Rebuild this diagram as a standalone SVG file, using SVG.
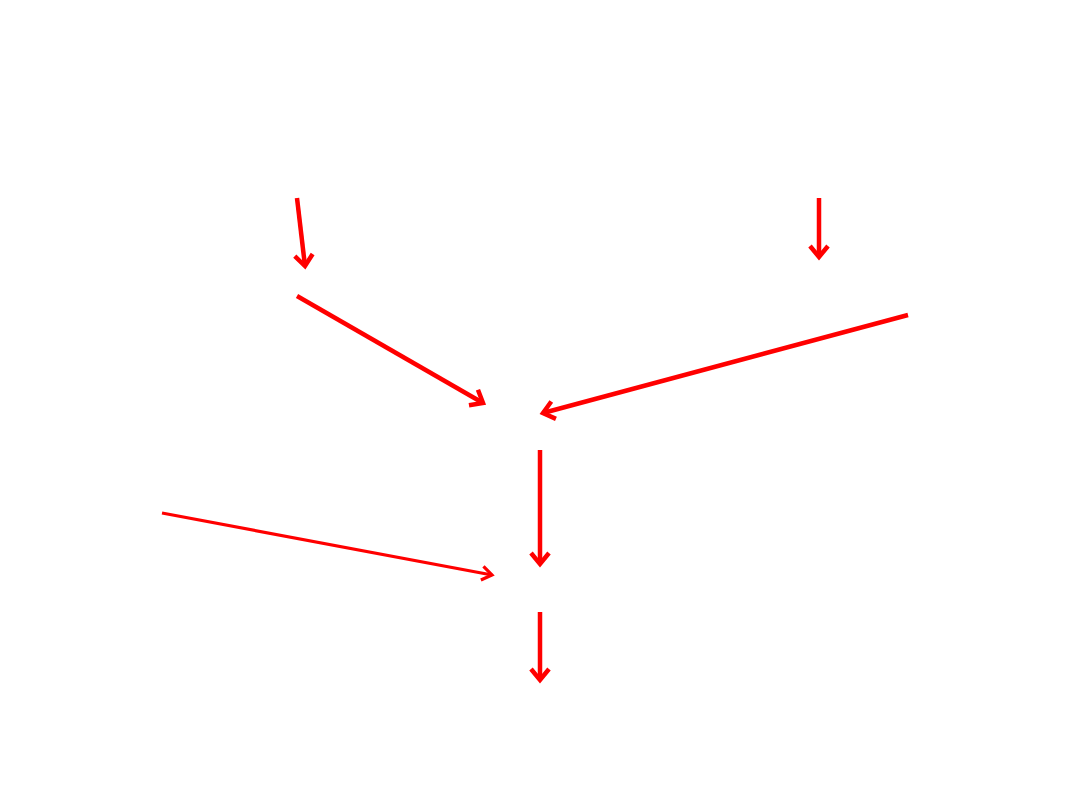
<svg xmlns="http://www.w3.org/2000/svg" width="1080" height="810" viewBox="0 0 1080 810">
<defs>
<style>
.c{stroke:#ff0000;stroke-width:4.5;fill:none;stroke-linecap:butt}
.t{stroke-width:3.2}
</style>
<marker id="ah" markerUnits="userSpaceOnUse" orient="auto" refX="0" refY="0" markerWidth="30" markerHeight="30" viewBox="-15 -15 30 30" overflow="visible">
<path d="M-11,-9 L0,0 L-11,9" fill="none" stroke="#ff0000" stroke-width="4.5" stroke-linejoin="miter"/>
</marker>
<marker id="ahs" markerUnits="userSpaceOnUse" orient="auto" refX="0" refY="0" markerWidth="30" markerHeight="30" viewBox="-15 -15 30 30" overflow="visible">
<path d="M-10,-7 L0,0 L-10,7" fill="none" stroke="#ff0000" stroke-width="3.2" stroke-linejoin="miter"/>
</marker>
</defs>
<rect width="1080" height="810" fill="#ffffff"/>
<g id="connectors">
<line class="c" x1="297" y1="198" x2="305" y2="266" marker-end="url(#ah)"/>
<line class="c" x1="297" y1="296" x2="483" y2="403" marker-end="url(#ah)"/>
<line class="c" x1="908" y1="315" x2="543" y2="413" marker-end="url(#ah)"/>
<line class="c" x1="819" y1="198" x2="819" y2="257" marker-end="url(#ah)"/>
<line class="c" x1="540" y1="450" x2="540" y2="564" marker-end="url(#ah)"/>
<line class="c t" x1="162" y1="513" x2="492" y2="575" marker-end="url(#ahs)"/>
<line class="c" x1="540" y1="612" x2="540" y2="680" marker-end="url(#ah)"/>
</g>
</svg>
